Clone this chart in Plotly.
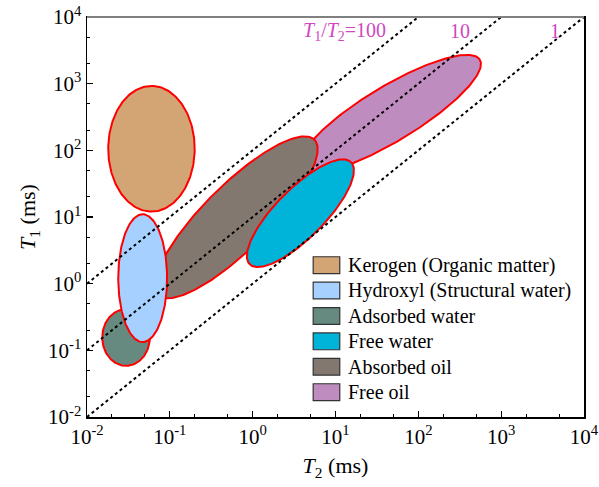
import numpy as np
import plotly.graph_objects as go

# ---- data (in ms) ----
names = ["Kerogen (Organic matter)", "Hydroxyl (Structural water)", "Adsorbed water",
         "Free water", "Absorbed oil", "Free oil"]
colors = ["#D3A574", "#A6D0FF", "#668A80", "#00B3D8", "#827870", "#BE8CBE"]
# long-axis end points (T2, T1) of each region and half-width in decades
t2_start = [0.060, 0.047, 0.0296, 0.962, 0.0764, 3.86]
t1_start = [12.05, 0.133, 0.0586, 1.875, 0.646, 51.5]
t2_end = [0.060, 0.047, 0.0296, 14.76, 5.30, 538.0]
t1_end = [925.0, 11.0, 0.415, 69.3, 151.7, 2393.0]
half_width = [0.522, 0.295, 0.2875, 0.323, 0.43, 0.382]
draw_order = [5, 4, 3, 0, 2, 1]

ratios = [100, 10, 1]
ratio_labels = ["<i>T</i><sub>1</sub>/<i>T</i><sub>2</sub>=100", "10", "1"]
ratio_label_t2 = [12.8, 320.0, 4460.0]
ratio_label_t1 = [6150.0, 6150.0, 6150.0]

axis_ticks = [1e-2, 1e-1, 1e0, 1e1, 1e2, 1e3, 1e4]
tick_text = ["10<sup>-2</sup>", "10<sup>-1</sup>", "10<sup>0</sup>", "10<sup>1</sup>",
             "10<sup>2</sup>", "10<sup>3</sup>", "10<sup>4</sup>"]

FONT = "Liberation Serif, Times New Roman, serif"


def ellipse(i, n=240):
    x0, y0 = np.log10(t2_start[i]), np.log10(t1_start[i])
    x1, y1 = np.log10(t2_end[i]), np.log10(t1_end[i])
    cx, cy = (x0 + x1) / 2, (y0 + y1) / 2
    ux, uy = (x1 - x0) / 2, (y1 - y0) / 2
    L = np.hypot(ux, uy)
    vx, vy = -uy / L * half_width[i], ux / L * half_width[i]
    ph = np.linspace(0, 2 * np.pi, n)
    lx = cx + ux * np.cos(ph) + vx * np.sin(ph)
    ly = cy + uy * np.cos(ph) + vy * np.sin(ph)
    return 10 ** lx, 10 ** ly


fig = go.Figure()
for i in draw_order:
    x, y = ellipse(i)
    fig.add_trace(go.Scatter(x=x, y=y, mode="lines", fill="toself",
                             fillcolor=colors[i], line=dict(color="#FF0000", width=2),
                             name=names[i], showlegend=False, hoverinfo="skip"))

xline = np.array([1e-2, 1e4])
for r in ratios:
    fig.add_trace(go.Scatter(x=xline, y=xline * r, mode="lines",
                             line=dict(color="black", width=2, dash="dot"),
                             showlegend=False, hoverinfo="skip"))

for lab, tx, ty in zip(ratio_labels, ratio_label_t2, ratio_label_t1):
    fig.add_annotation(x=np.log10(tx), y=np.log10(ty), text=lab, showarrow=False,
                       xref="x", yref="y", font=dict(family=FONT, size=20, color="#D048C0"))

# manual legend
leg_x0, leg_top, leg_step = 0.4551, 0.3796, 0.0635
for k, (nm, c) in enumerate(zip(names, colors)):
    yc = leg_top - k * leg_step
    fig.add_shape(type="rect", xref="paper", yref="paper",
                  x0=leg_x0, x1=leg_x0 + 0.0535, y0=yc - 0.021, y1=yc + 0.021,
                  fillcolor=c, line=dict(color="#333333", width=1.2))
    fig.add_annotation(xref="paper", yref="paper", x=leg_x0 + 0.066, y=yc, text=nm,
                       showarrow=False, xanchor="left", yanchor="middle",
                       font=dict(family=FONT, size=20, color="black"))

# top border in grey
fig.add_shape(type="line", xref="paper", yref="paper", x0=0, x1=1, y0=1, y1=1,
              line=dict(color="#808080", width=2))

axis_common = dict(type="log", range=[-2, 4], showgrid=False, zeroline=False,
                   showline=True, linecolor="black", linewidth=1.5, mirror=True,
                   ticks="inside", ticklen=6, tickwidth=1.2, tickcolor="black",
                   tickvals=axis_ticks, ticktext=tick_text, automargin=False,
                   tickfont=dict(family=FONT, size=21, color="black"),
                   minor=dict(ticks="inside", ticklen=3, tickwidth=1, tickcolor="black",
                              showgrid=False))

fig.update_xaxes(**axis_common,
                 title=dict(text="<i>T</i><sub>2</sub> (ms)", standoff=10,
                            font=dict(family=FONT, size=22, color="black")))
fig.update_yaxes(**axis_common,
                 title=dict(text="<i>T</i><sub>1</sub> (ms)", standoff=6,
                            font=dict(family=FONT, size=22, color="black")))

fig.update_layout(width=599, height=487, margin=dict(l=87, r=15, t=17, b=70),
                  plot_bgcolor="white", paper_bgcolor="white", showlegend=False)

fig.write_html("out.html", config={"displayModeBar": False, "staticPlot": True},
               post_script="document.body.style.margin='0px';document.body.style.overflow='hidden';")
